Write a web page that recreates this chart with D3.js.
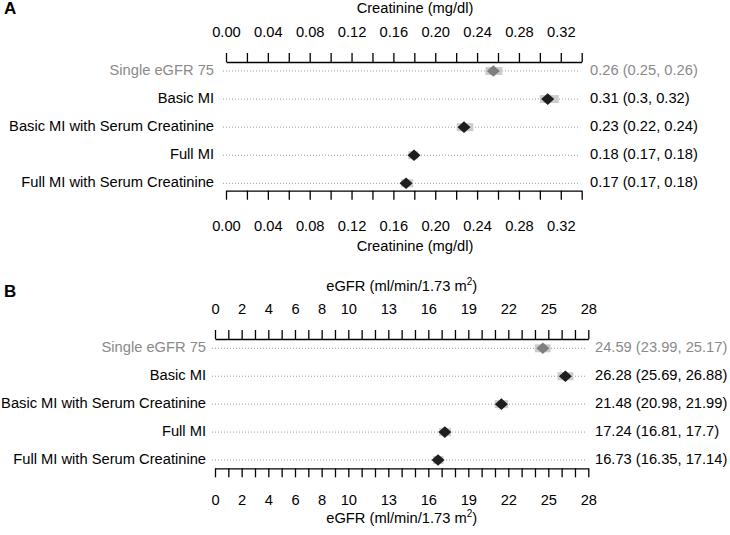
<!DOCTYPE html>
<html><head><meta charset="utf-8">
<script src="https://cdn.jsdelivr.net/npm/d3@7"></script>
<style>
body{margin:0;background:#fff;}
svg{display:block;font-family:"Liberation Sans",Arial,Helvetica,sans-serif;}
</style></head>
<body>
<svg id="chart" width="730" height="535"></svg>
<script>
// ---- data ----
const categories = ["Single eGFR 75","Basic MI","Basic MI with Serum Creatinine","Full MI","Full MI with Serum Creatinine"];

const creatEst = [0.2555, 0.3075, 0.2275, 0.1797, 0.1721];
const creatLo  = [0.2480, 0.3000, 0.2205, 0.1743, 0.1673];
const creatHi  = [0.2640, 0.3180, 0.2364, 0.1839, 0.1790];
const creatText = ["0.26 (0.25, 0.26)","0.31 (0.3, 0.32)","0.23 (0.22, 0.24)","0.18 (0.17, 0.18)","0.17 (0.17, 0.18)"];
const creatTicks = d3.range(0, 0.3401, 0.02);
const creatTickLabels = [0.00,0.04,0.08,0.12,0.16,0.20,0.24,0.28,0.32];

const egfrEst = [24.59, 26.28, 21.48, 17.24, 16.73];
const egfrLo  = [23.99, 25.69, 20.98, 16.81, 16.35];
const egfrHi  = [25.17, 26.88, 21.99, 17.70, 17.14];
const egfrText = ["24.59 (23.99, 25.17)","26.28 (25.69, 26.88)","21.48 (20.98, 21.99)","17.24 (16.81, 17.7)","16.73 (16.35, 17.14)"];
const egfrTicks = d3.range(0, 29, 1);
const egfrTickLabels = [0,2,4,6,8,10,13,16,19,22,25,28];

// ---- drawing ----
const svg = d3.select("#chart");
const FS = 14.7;
const greyRow = "#8a8a8a";

function panel(cfg){
  const g = svg.append("g");
  const x = d3.scaleLinear().domain(cfg.domain).range(cfg.xr);
  const y = d3.scalePoint().domain(categories).range(cfg.yr);
  const labSet = new Set(cfg.labels.map(v => +v.toFixed(4)));
  const fmt = v => labSet.has(+v.toFixed(4)) ? cfg.fmt(v) : "";

  // panel letter
  g.append("text").attr("x", 4).attr("y", cfg.letterY).attr("font-size", 17)
    .attr("font-weight", "bold").attr("dominant-baseline","middle").text(cfg.letter);

  // titles
  [cfg.titleTopY, cfg.titleBotY].forEach(ty => {
    const t = g.append("text").attr("x", cfg.titleX).attr("y", ty).attr("font-size", FS)
      .attr("text-anchor","middle").attr("dominant-baseline","middle");
    cfg.title(t);
  });

  // axes
  const top = d3.axisTop(x).tickValues(cfg.ticks).tickFormat(fmt)
    .tickSizeInner(9).tickSizeOuter(0).tickPadding(cfg.padTop);
  const bot = d3.axisBottom(x).tickValues(cfg.ticks).tickFormat(fmt)
    .tickSizeInner(9).tickSizeOuter(0).tickPadding(cfg.padBot);
  [[top, cfg.axisTopY],[bot, cfg.axisBotY]].forEach(([ax, ay]) => {
    const a = g.append("g").attr("transform", `translate(0,${ay})`).call(ax);
    a.selectAll("path,line").attr("stroke","#000").attr("stroke-width",1.3);
    a.selectAll("text").attr("font-size", FS).attr("fill","#000")
      .attr("font-family","'Liberation Sans',Arial,sans-serif");
  });

  // rows
  const rows = g.selectAll("g.row").data(categories).join("g").attr("class","row");
  rows.append("line")
    .attr("x1", x(cfg.domain[0]) - 3).attr("x2", x(cfg.domain[1]) - 3)
    .attr("y1", d => y(d)).attr("y2", d => y(d))
    .attr("stroke", "#9a9a9a").attr("stroke-width", 1).attr("stroke-dasharray","1,2");
  rows.append("text").attr("x", cfg.labelRight).attr("y", d => y(d))
    .attr("text-anchor","end").attr("dominant-baseline","middle").attr("font-size", FS)
    .attr("fill", (d,i) => i === 0 ? greyRow : "#000").text(d => d);
  rows.append("rect")
    .attr("x", (d,i) => x(cfg.lo[i])).attr("width", (d,i) => x(cfg.hi[i]) - x(cfg.lo[i]))
    .attr("y", d => y(d) - 4).attr("height", 8).attr("fill", "#cccccc");
  rows.append("path")
    .attr("d", (d,i) => {
      const cx = x(cfg.est[i]), cy = y(d), w = 6.5, h = 5.8;
      return `M${cx-w},${cy}L${cx},${cy-h}L${cx+w},${cy}L${cx},${cy+h}Z`;
    })
    .attr("fill", (d,i) => i === 0 ? "#7f7f7f" : "#1e1e1e");
  rows.append("text").attr("x", cfg.valueLeft).attr("y", d => y(d))
    .attr("dominant-baseline","middle").attr("font-size", FS)
    .attr("fill", (d,i) => i === 0 ? greyRow : "#000").text((d,i) => cfg.text[i]);
}

panel({
  letter: "A", letterY: 10,
  domain: [0, 0.34], xr: [226, 581.7], yr: [71, 183.3],
  ticks: creatTicks, labels: creatTickLabels, fmt: d3.format(".2f"),
  padTop: 16, padBot: 20.5,
  axisTopY: 62, axisBotY: 190.7,
  titleX: 415, titleTopY: 9, titleBotY: 247,
  title: t => t.text("Creatinine (mg/dl)"),
  labelRight: 214, valueLeft: 590,
  est: creatEst, lo: creatLo, hi: creatHi, text: creatText
});

panel({
  letter: "B", letterY: 293,
  domain: [0, 28], xr: [215, 588.3], yr: [348.3, 460],
  ticks: egfrTicks, labels: egfrTickLabels, fmt: d3.format("d"),
  padTop: 16, padBot: 17.5,
  axisTopY: 339, axisBotY: 468.3,
  titleX: 401.7, titleTopY: 287, titleBotY: 518.5,
  title: t => {
    t.append("tspan").text("eGFR (ml/min/1.73 m");
    t.append("tspan").attr("dy", -5).attr("font-size", 10).text("2");
    t.append("tspan").attr("dy", 5).text(")");
  },
  labelRight: 206, valueLeft: 595,
  est: egfrEst, lo: egfrLo, hi: egfrHi, text: egfrText
});
</script>
</body></html>
